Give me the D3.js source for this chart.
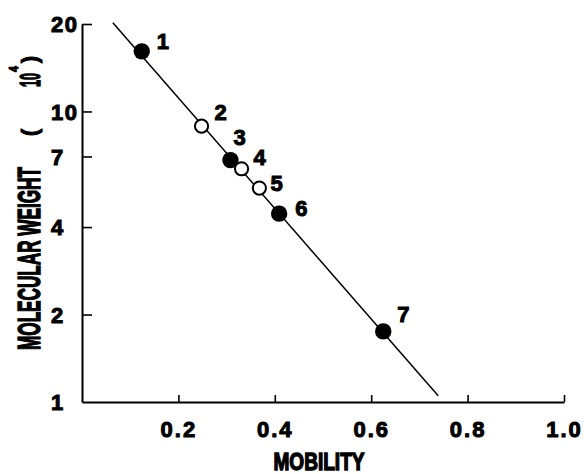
<!DOCTYPE html>
<html>
<head>
<meta charset="utf-8">
<script src="https://cdn.jsdelivr.net/npm/d3@7"></script>
<style>
    body { margin: 0; background: #fff; }
    text { font-family: "Liberation Sans", Arial, sans-serif; font-weight: bold; fill: #000; stroke: #000; stroke-width: 1px; }
    .title { stroke-width: 1.4px; }
</style>
</head>
<body>
<div id="chart"></div>
<script>
// values
const pointIds = ['1', '2', '3', '4', '5', '6', '7'];
const mobility = [0.124, 0.248, 0.308, 0.331, 0.368, 0.409, 0.625];
const weight = [16.1, 8.9, 6.8, 6.35, 5.45, 4.45, 1.75];
const filled = [true, false, true, false, false, true, true];

// fitted line end points
const fitMobility = [0.064, 0.739];
const fitWeight = [20.2, 1.05];

const xTicks = [0.2, 0.4, 0.6, 0.8, 1.0];
const yTicks = [1, 2, 4, 7, 10, 20];

const W = 584, H = 474;
const margin = { top: 24, right: 20, bottom: 72, left: 82 };

// label nudges (px) relative to each point
const labelOffsets = [[15, -2], [13, -6], [3, -15], [12, -4], [11, 3], [16, 2], [14, -9]];

const svg = d3.select('#chart').append('svg').attr('width', W).attr('height', H);

const x = d3.scaleLinear().domain([0, 1]).range([margin.left, W - margin.right]);
const y = d3.scaleLog().domain([1, 20]).range([H - margin.bottom, margin.top]);

// axes
const xAxisG = svg.append('g').attr('transform', 'translate(0,' + (H - margin.bottom) + ')')
    .call(d3.axisBottom(x).tickValues(xTicks).tickFormat(d3.format('.1f')).tickSize(-7).tickSizeOuter(0));
const yAxisG = svg.append('g').attr('transform', 'translate(' + margin.left + ',0)')
    .call(d3.axisLeft(y).tickValues(yTicks).tickFormat(d3.format('d')).tickSize(-10).tickSizeOuter(0));

svg.selectAll('g').attr('font-family', null).attr('font-size', null);
svg.selectAll('.domain').attr('stroke', '#000').attr('stroke-width', 2);
svg.selectAll('.tick line').attr('stroke', '#000').attr('stroke-width', 1.6);
yAxisG.select('.tick:first-of-type line').remove();

xAxisG.selectAll('.tick text')
    .attr('y', 0).attr('dy', 35)
    .attr('font-size', 22).attr('letter-spacing', 2)
    .attr('fill', '#000');
yAxisG.selectAll('.tick text')
    .attr('x', -31).attr('dy', '0.36em')
    .attr('text-anchor', 'start')
    .attr('font-size', 22).attr('letter-spacing', 1.5)
    .attr('fill', '#000');

// fitted line
const fit = fitMobility.map((m, i) => [m, fitWeight[i]]);
svg.append('path')
    .datum(fit)
    .attr('d', d3.line().x(d => x(d[0])).y(d => y(d[1])))
    .attr('fill', 'none').attr('stroke', '#000').attr('stroke-width', 1.5);

// points
const pts = pointIds.map((id, i) => ({ id, m: mobility[i], w: weight[i], filled: filled[i], off: labelOffsets[i] }));

svg.selectAll('circle.pt').data(pts).enter().append('circle')
    .attr('class', 'pt')
    .attr('cx', d => x(d.m)).attr('cy', d => y(d.w))
    .attr('r', d => d.filled ? 8.2 : 6.6)
    .attr('fill', d => d.filled ? '#000' : '#fff')
    .attr('stroke', '#000').attr('stroke-width', d => d.filled ? 0 : 2);

svg.selectAll('text.pid').data(pts).enter().append('text')
    .attr('class', 'pid')
    .attr('x', d => x(d.m) + d.off[0]).attr('y', d => y(d.w) + d.off[1])
    .attr('font-size', 22)
    .text(d => d.id);

// axis titles
svg.append('text')
    .attr('class', 'title')
    .attr('x', x(0.5) - 4).attr('y', 470)
    .attr('text-anchor', 'middle')
    .attr('font-size', 24)
    .attr('textLength', 91).attr('lengthAdjust', 'spacingAndGlyphs')
    .text('MOBILITY');

const yTitle = svg.append('g').attr('class', 'title').attr('transform', 'translate(40,350) rotate(-90)');
yTitle.append('text').attr('class', 'title').attr('x', 0).attr('font-size', 31)
    .attr('textLength', 183).attr('lengthAdjust', 'spacingAndGlyphs')
    .text('MOLECULAR WEIGHT');
yTitle.append('text').attr('x', 214).attr('y', -3).attr('font-size', 22)
    .attr('textLength', 7).attr('lengthAdjust', 'spacingAndGlyphs')
    .text('(');
yTitle.append('text').attr('class', 'title').attr('x', 263).attr('font-size', 29)
    .attr('textLength', 14).attr('lengthAdjust', 'spacingAndGlyphs')
    .text('10');
yTitle.append('text').attr('x', 278).attr('y', -22).attr('font-size', 13)
    .attr('textLength', 6).attr('lengthAdjust', 'spacingAndGlyphs')
    .text('4');
yTitle.append('text').attr('x', 287).attr('y', -3).attr('font-size', 22)
    .attr('textLength', 7).attr('lengthAdjust', 'spacingAndGlyphs')
    .text(')');
</script>
</body>
</html>
